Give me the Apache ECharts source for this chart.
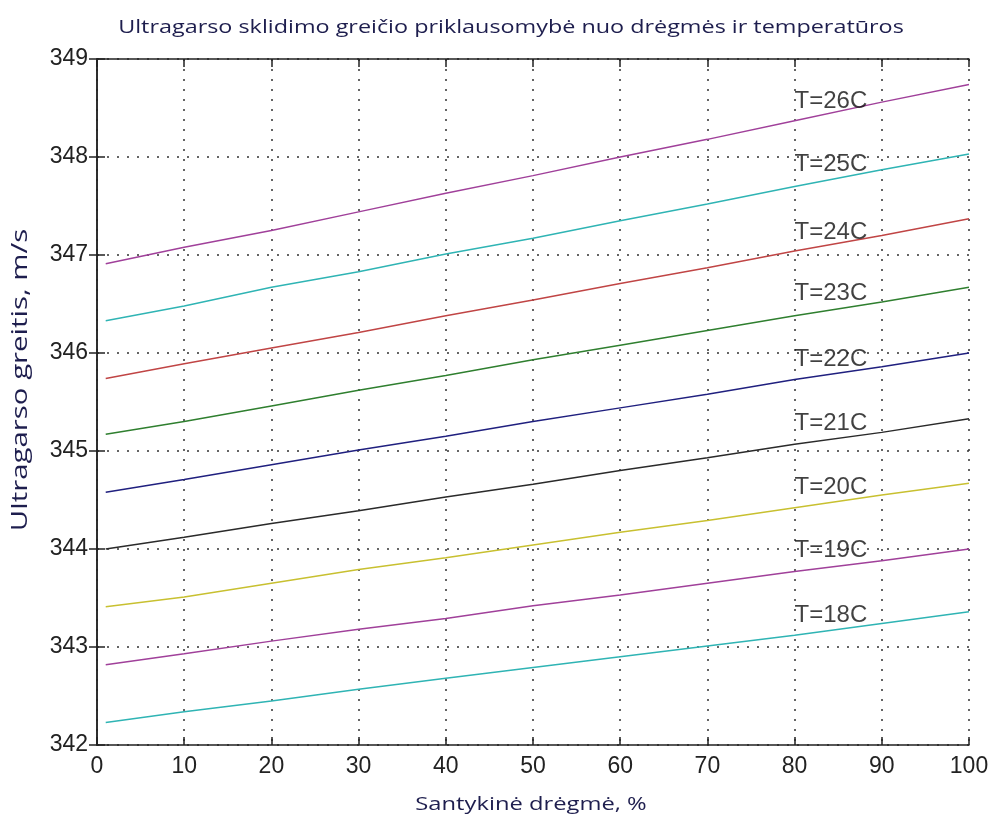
<!DOCTYPE html>
<html><head><meta charset="utf-8">
<script src="https://cdn.jsdelivr.net/npm/echarts@6/dist/echarts.min.js"></script>
<style>html,body{margin:0;padding:0;background:#fff}#c{width:993px;height:821px}</style>
</head><body><div id="c"></div>
<script>
const humidity = [1, 10, 20, 30, 40, 50, 60, 70, 80, 90, 100];
const T26 = [346.91, 347.08, 347.25, 347.44, 347.63, 347.81, 348.00, 348.18, 348.37, 348.56, 348.74];
const T25 = [346.33, 346.48, 346.67, 346.83, 347.01, 347.17, 347.35, 347.52, 347.70, 347.87, 348.03];
const T24 = [345.74, 345.89, 346.05, 346.21, 346.38, 346.54, 346.71, 346.87, 347.04, 347.20, 347.37];
const T23 = [345.17, 345.30, 345.46, 345.62, 345.77, 345.93, 346.08, 346.23, 346.38, 346.52, 346.67];
const T22 = [344.58, 344.71, 344.86, 345.01, 345.15, 345.30, 345.44, 345.58, 345.73, 345.86, 346.00];
const T21 = [344.00, 344.12, 344.26, 344.39, 344.53, 344.66, 344.80, 344.93, 345.07, 345.19, 345.33];
const T20 = [343.41, 343.51, 343.65, 343.79, 343.91, 344.04, 344.17, 344.29, 344.42, 344.55, 344.67];
const T19 = [342.82, 342.93, 343.06, 343.18, 343.29, 343.42, 343.53, 343.65, 343.77, 343.88, 344.00];
const T18 = [342.23, 342.34, 342.45, 342.57, 342.68, 342.79, 342.90, 343.01, 343.12, 343.24, 343.36];
const seriesNames = ['T=26C','T=25C','T=24C','T=23C','T=22C','T=21C','T=20C','T=19C','T=18C'];
const seriesValues = [T26, T25, T24, T23, T22, T21, T20, T19, T18];
const seriesColors = ['#a0409a','#2fb4b4','#c04545','#2f7f2f','#20207f','#2a2a2a','#c8c030','#a0409a','#2fb4b4'];
const labelX = [80, 80, 80, 80, 80, 80, 80, 80, 80];
const labelY = [348.57, 347.92, 347.23, 346.61, 345.93, 345.28, 344.63, 343.99, 343.32];
const xTicks = [0,10,20,30,40,50,60,70,80,90,100];
const yTicks = [342,343,344,345,346,347,348,349];
const titleText = 'Ultragarso sklidimo greičio priklausomybė nuo drėgmės ir temperatūros';
const xName = 'Santykinė drėgmė, %';
const yName = 'Ultragarso greitis, m/s';

const axisFont = 'Liberation Sans, Arial, sans-serif';
const nameFont = 'Open Sans, sans-serif';
const nameColor = '#1e1e4e';
const lineSeries = seriesValues.map((vals, i) => ({
  type: 'line', name: seriesNames[i], showSymbol: false, symbol: 'none',
  data: humidity.map((h, j) => [h, vals[j]]),
  lineStyle: { color: seriesColors[i], width: 1.5 },
  itemStyle: { color: seriesColors[i] }, z: 3, animation: false
}));
const labelSeries = {
  type: 'scatter', symbolSize: 0, z: 5, animation: false, silent: true,
  data: seriesNames.map((n, i) => ({ value: [labelX[i], labelY[i]], name: n })),
  label: { show: true, position: 'right', distance: 0, formatter: p => p.name,
           fontFamily: axisFont, fontSize: 24, color: '#111' }
};
const tickStyle = { show: true, inside: true, length: 8, lineStyle: { color: '#222', width: 1.5 } };
const axisLineStyle = { show: true, lineStyle: { color: '#222', width: 1.5 } };
const split = { show: true, lineStyle: { color: '#333', type: [2, 8], width: 1.5 } };

function textEl(text, x, y, size, sx, rot) {
  return { type: 'text', x: x, y: y, scaleX: sx, scaleY: 1, rotation: rot || 0, silent: true,
    style: { text: text, fontFamily: nameFont, fontSize: size, fill: nameColor,
             align: 'center', verticalAlign: 'middle', textAlign: 'center', textVerticalAlign: 'middle' } };
}

const chart = echarts.init(document.getElementById('c'));
chart.setOption({
  animation: false,
  backgroundColor: '#fff',
  graphic: [
    textEl(titleText, 511, 28, 19, 1.23, 0),
    textEl(xName, 531, 805, 19, 1.25, 0),
    textEl(yName, 21, 380, 21, 1.40, Math.PI / 2)
  ],
  grid: { left: 97, right: 24, top: 59, bottom: 76, containLabel: false },
  xAxis: [{
    type: 'value', min: xTicks[0], max: xTicks[xTicks.length - 1], interval: 10,
    axisLine: axisLineStyle, axisTick: tickStyle, splitLine: split,
    axisLabel: { fontFamily: axisFont, fontSize: 23, color: '#222', margin: 10 }
  }, {
    type: 'value', position: 'top', min: 0, max: 100, interval: 10,
    axisLine: axisLineStyle, axisTick: tickStyle, splitLine: { show: false }, axisLabel: { show: false }
  }],
  yAxis: [{
    type: 'value', min: yTicks[0], max: yTicks[yTicks.length - 1], interval: 1,
    axisLine: axisLineStyle, axisTick: tickStyle, splitLine: split,
    axisLabel: { fontFamily: axisFont, fontSize: 23, color: '#222', margin: 9 }
  }, {
    type: 'value', position: 'right', min: 342, max: 349, interval: 1,
    axisLine: axisLineStyle, axisTick: tickStyle, splitLine: { show: false }, axisLabel: { show: false }
  }],
  series: [...lineSeries, labelSeries]
});
</script></body></html>
